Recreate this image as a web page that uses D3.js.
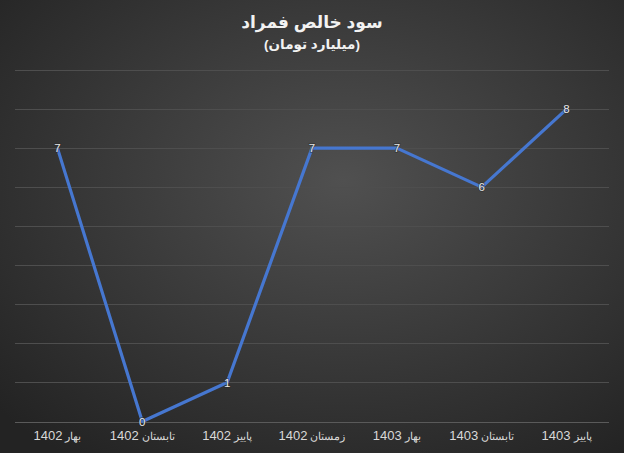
<!DOCTYPE html>
<html>
<head>
<meta charset="utf-8">
<script src="https://cdn.jsdelivr.net/npm/d3@7"></script>
<style>
  html, body { margin: 0; padding: 0; background: #262626; }
  svg { display: block; font-family: "Liberation Sans", Arial, "DejaVu Sans", sans-serif; }
</style>
</head>
<body>
<svg id="chart"></svg>
<script>
// chart data
const categories = ["بهار 1402", "تابستان 1402", "پاییز 1402", "زمستان 1402", "بهار 1403", "تابستان 1403", "پاییز 1403"];
const profit = [7, 0, 1, 7, 7, 6, 8];
const yTicks = [0, 1, 2, 3, 4, 5, 6, 7, 8, 9];
const title = "سود خالص فمراد";
const subtitle = "(میلیارد تومان)";

const width = 624, height = 453;
const margin = { top: 70, right: 15, bottom: 31, left: 15 };

const svg = d3.select("#chart").attr("width", width).attr("height", height);

// background gradient
const defs = svg.append("defs");
const grad = defs.append("radialGradient")
	.attr("id", "bg")
	.attr("cx", "55%").attr("cy", "40%").attr("r", "75%");
grad.append("stop").attr("offset", "0%").attr("stop-color", "#505050");
grad.append("stop").attr("offset", "100%").attr("stop-color", "#232323");

svg.append("rect")
	.attr("width", width).attr("height", height)
	.attr("fill", "url(#bg)");

const x = d3.scaleBand()
	.domain(categories)
	.range([margin.left, width - margin.right]);

const y = d3.scaleLinear()
	.domain([0, 9])
	.range([height - margin.bottom - 0.5, margin.top]);

// gridlines
svg.append("g")
	.selectAll("line")
	.data(yTicks)
	.enter()
	.append("line")
	.attr("x1", margin.left)
	.attr("x2", width - margin.right)
	.attr("y1", (d) => Math.round(y(d)) + 0.5)
	.attr("y2", (d) => Math.round(y(d)) + 0.5)
	.style("stroke", (d) => (d === 0 ? "#5a5a5a" : "#4e4e4e"))
	.style("stroke-width", "1px");

// x axis labels: season word smaller than the year
const xAxis = d3.axisBottom(x).tickSize(0).tickPadding(11);
const gx = svg.append("g")
	.attr("transform", `translate(0,${y(0)})`)
	.call(xAxis);
gx.select(".domain").remove();
gx.selectAll("text")
	.attr("direction", "rtl")
	.style("fill", "#d9d9d9")
	.text(null)
	.each(function (d) {
		const parts = d.split(" ");
		const t = d3.select(this);
		t.append("tspan").text(parts[0] + " ").style("font-size", "11px");
		t.append("tspan").text(parts[1]).style("font-size", "13px");
	});

// line
const cx = (d, i) => x(categories[i]) + x.bandwidth() / 2;
const line = d3.line()
	.x((d, i) => cx(d, i))
	.y((d) => y(d));

svg.append("path")
	.datum(profit)
	.attr("d", line)
	.style("fill", "none")
	.style("stroke", "#4677d0")
	.style("stroke-width", "3.2px")
	.style("stroke-linejoin", "round");

// data labels
svg.append("g")
	.selectAll("text")
	.data(profit)
	.enter()
	.append("text")
	.attr("x", (d, i) => cx(d, i))
	.attr("y", (d) => y(d))
	.attr("text-anchor", "middle")
	.attr("dy", "0.36em")
	.text((d) => d)
	.style("font-size", "11.5px")
	.style("fill", "#e8e8e8")
	.style("paint-order", "stroke")
	.style("stroke", "rgba(40,40,40,0.6)")
	.style("stroke-width", "1.5px");

// titles
svg.append("text")
	.attr("x", width / 2)
	.attr("y", 28)
	.attr("text-anchor", "middle")
	.attr("direction", "rtl")
	.text(title)
	.style("font-size", "17px")
	.style("font-weight", "700")
	.style("fill", "#f2f2f2");

svg.append("text")
	.attr("x", width / 2)
	.attr("y", 49)
	.attr("text-anchor", "middle")
	.attr("direction", "rtl")
	.text(subtitle)
	.style("font-size", "13.5px")
	.style("font-weight", "700")
	.style("fill", "#f2f2f2");
</script>
</body>
</html>
